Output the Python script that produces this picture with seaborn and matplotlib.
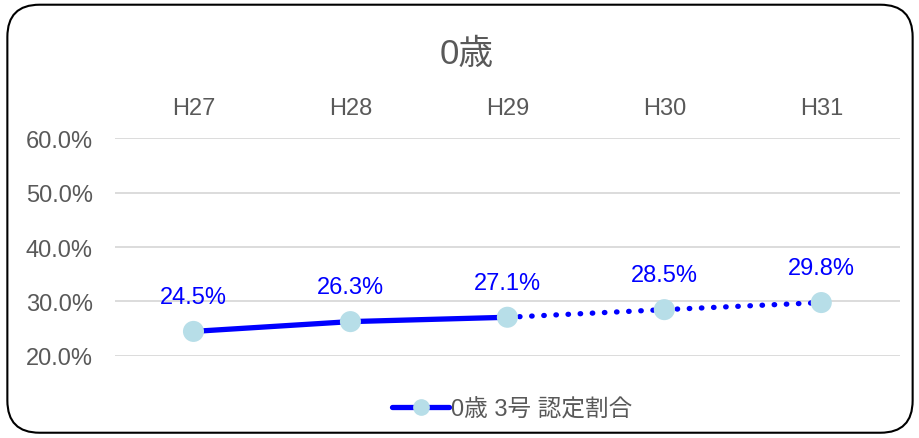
import matplotlib
matplotlib.use("Agg")
import matplotlib.pyplot as plt
import seaborn as sns
import pandas as pd
from matplotlib.lines import Line2D
from matplotlib.patches import FancyBboxPatch
from matplotlib.ticker import PercentFormatter

years = ["H27", "H28", "H29", "H30", "H31"]
values = [0.245, 0.263, 0.271, 0.285, 0.298]
labels = ["24.5%", "26.3%", "27.1%", "28.5%", "29.8%"]
title = "0歳"
series_name = "0歳 3号 認定割合"
solid_count = 3  # actual values H27-H29, projections after

sns.set_theme(style="white")
plt.rcParams["font.family"] = ["Liberation Sans", "Noto Sans CJK JP", "DejaVu Sans"]

gray = "#595959"
blue = "#0000FF"
marker_col = "#B7DEE8"
fs = 17

df = pd.DataFrame({"x": range(len(years)), "year": years, "value": values})

fig = plt.figure(figsize=(9.2, 4.39), dpi=100)
ax = fig.add_axes([0.125, 0.187, 0.853, 0.496])

sns.lineplot(data=df.iloc[:solid_count], x="x", y="value", ax=ax, color=blue,
             linewidth=3.8, solid_capstyle="round", legend=False)
dotted = sns.lineplot(data=df.iloc[solid_count - 1:], x="x", y="value", ax=ax,
                      color=blue, linewidth=3.8, legend=False)
dotted.lines[-1].set_linestyle((0, (0.1, 2.2)))
dotted.lines[-1].set_dash_capstyle("round")
sns.scatterplot(data=df, x="x", y="value", ax=ax, color=marker_col, s=230,
                edgecolor="none", zorder=5, legend=False)

for xi, v, lab in zip(df["x"], values, labels):
    ax.annotate(lab, (xi, v), xytext=(0, 25), textcoords="offset points",
                ha="center", va="center", color=blue, fontsize=fs)

ax.set_xlim(-0.5, len(years) - 0.5)
ax.set_ylim(0.2, 0.6)
ax.set_yticks([0.2, 0.3, 0.4, 0.5, 0.6])
ax.yaxis.set_major_formatter(PercentFormatter(1.0, decimals=1))
ax.set_xticks(range(len(years)))
ax.set_xticklabels(years)
ax.xaxis.tick_top()
ax.tick_params(axis="x", length=0, pad=14, labelsize=fs, labelcolor=gray)
ax.tick_params(axis="y", length=0, pad=16, labelsize=fs, labelcolor=gray)
ax.set_xlabel("")
ax.set_ylabel("")
ax.grid(axis="y", color="#D9D9D9", linewidth=1.3)
ax.grid(axis="x", visible=False)
for s in ax.spines.values():
    s.set_visible(False)
for coll in ax.collections:
    coll.set_clip_on(False)
for ln in ax.lines:
    ln.set_clip_on(False)

fig.text(0.507, 0.875, title, ha="center", va="center", fontsize=25, color=gray)

handle = Line2D([], [], color=blue, linewidth=3.8, marker="o", markersize=11,
                markerfacecolor=marker_col, markeredgecolor=marker_col)
fig.legend([handle], [series_name], loc="center", bbox_to_anchor=(0.557, 0.065),
           frameon=False, fontsize=fs, labelcolor=gray, handlelength=2.4,
           handletextpad=0.1)

border = FancyBboxPatch((0.008, 0.012), 0.984, 0.975, transform=fig.transFigure,
                        boxstyle="round,pad=0,rounding_size=0.035",
                        facecolor="none", edgecolor="black", linewidth=1.5,
                        mutation_aspect=920 / 439)
fig.patches.append(border)

fig.savefig("out.png", dpi=100)
